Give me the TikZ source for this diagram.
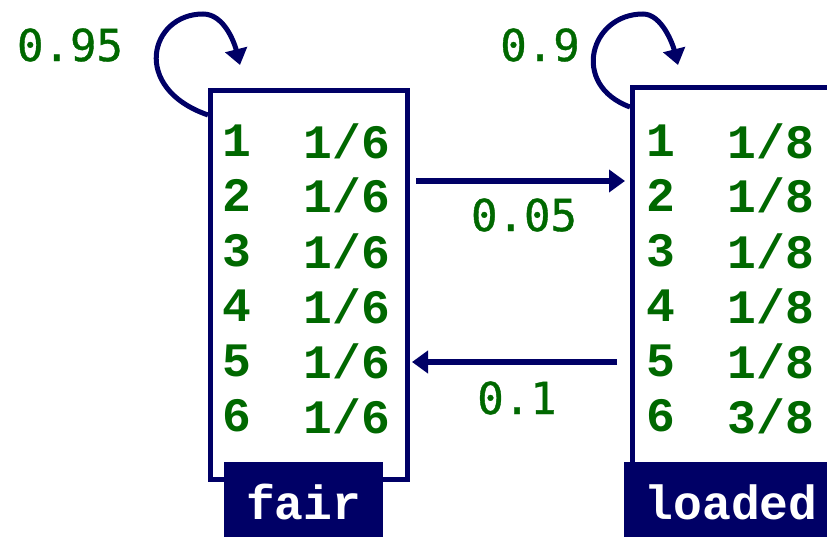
\documentclass[tikz,border=0pt]{standalone}
\usepackage{fontspec}
\setmonofont{Liberation Mono}
\newfontfamily\labelmono{DejaVu Sans Mono}[FakeBold=0.9]
\usetikzlibrary{arrows.meta}
\definecolor{navy}{RGB}{0,0,102}
\definecolor{dgreen}{RGB}{0,104,0}

\begin{document}
\begin{tikzpicture}[x=1pt,y=-1pt,
  every node/.style={font=\fontsize{48}{56}\selectfont\ttfamily\bfseries, inner sep=0pt},
  prob/.style={text=dgreen},
  weight/.style={text=dgreen, font=\fontsize{44}{52}\selectfont\labelmono},
  statebox/.style={draw=navy, line width=5pt, fill=white, anchor=north west},
  tagbox/.style={fill=navy, text=white, anchor=north west},
  trans/.style={draw=navy, line width=5.5pt, -{Triangle[length=16pt,width=22pt]}},
  selfloop/.style={draw=navy, line width=5pt, -{Triangle[length=16pt,width=22pt]}},
]
\useasboundingbox (0,0) rectangle (827,537);

% the two states
\node[statebox, minimum width=197pt, minimum height=389pt] (fair) at (208,88) {};
\node[statebox, minimum width=260pt, minimum height=392pt] (loaded) at (630,85) {};

% emission tables
\foreach \i/\y in {1/141,2/195,3/251,4/306,5/361,6/416} {
  \node[prob] (fs\i) at (237,\y) {\i};
  \node[prob] (fp\i) at (347,\y) {1/6};
  \node[prob] (ls\i) at (661,\y) {\i};
}
\node[prob] (lp1) at (771,141) {1/8};
\node[prob] (lp2) at (771,195) {1/8};
\node[prob] (lp3) at (771,251) {1/8};
\node[prob] (lp4) at (771,306) {1/8};
\node[prob] (lp5) at (771,361) {1/8};
\node[prob] (lp6) at (771,416) {3/8};

% state name tags
\node[tagbox, minimum width=159pt, minimum height=80pt] (fairtag) at (224,462) {fair};
\node[tagbox, minimum width=214pt, minimum height=80pt] (loadedtag) at (624,462) {loaded};

% transitions between states
\draw[trans] ([xshift=6pt,yshift=-93pt]fair.north east) -- ([xshift=-5pt,yshift=-96pt]loaded.north west);
\draw[trans] ([xshift=-13pt,yshift=-277pt]loaded.north west) -- ([xshift=2pt,yshift=-274pt]fair.north east);
\node[weight] (tfl) at (524,215) {0.05};
\node[weight] (tlf) at (517,398) {0.1};

% self transitions
\coordinate (fairin) at (240,65);
\coordinate (loadedin) at (678,65);
\draw[selfloop] ([yshift=-27pt]fair.north west) .. controls (130,88) and (150,14) .. (203,14)
  .. controls (225,14) and (235,45) .. (fairin);
\draw[selfloop] ([yshift=-22pt]loaded.north west) .. controls (570,85) and (590,14) .. (643,14)
  .. controls (662,14) and (673,45) .. (loadedin);
\node[weight] (sf) at (70,45) {0.95};
\node[weight] (sl) at (540,45) {0.9};
\end{tikzpicture}
\end{document}
